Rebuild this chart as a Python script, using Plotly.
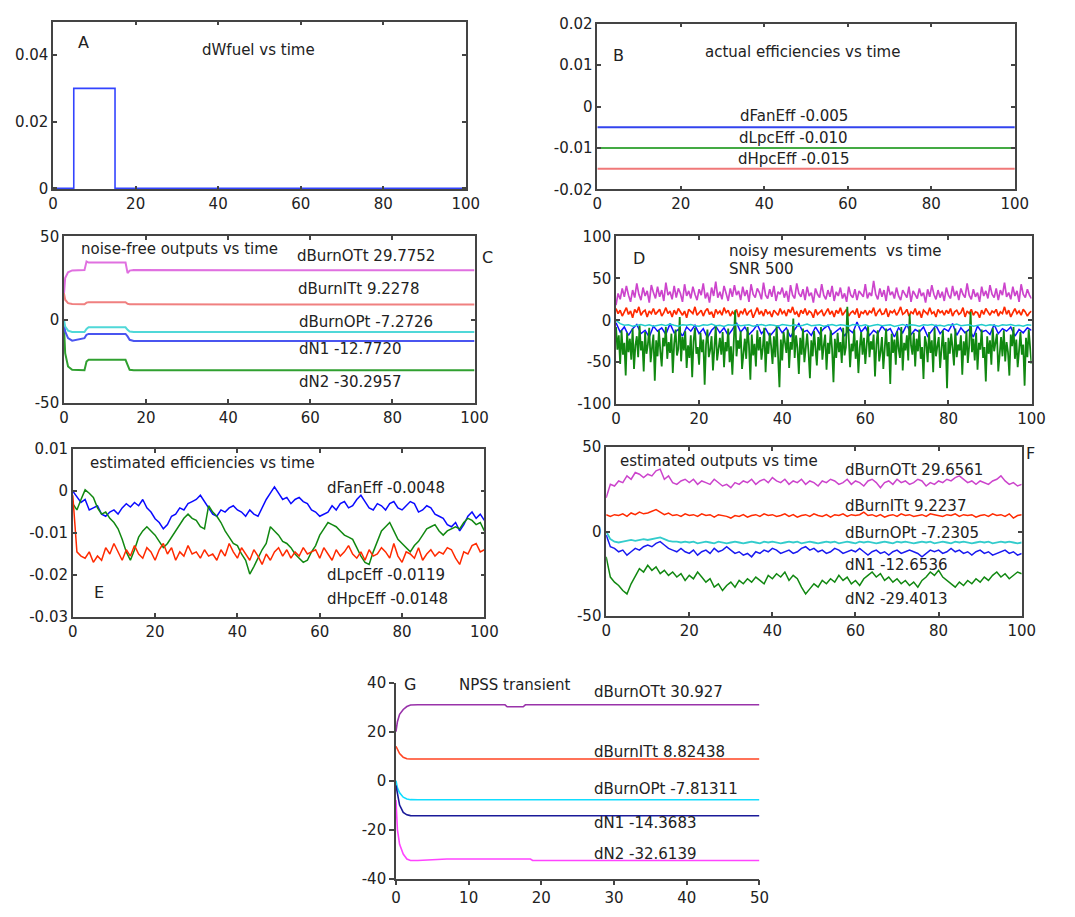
import numpy as np
import plotly.graph_objects as go

# ---------------- DATA ----------------
# Panel A: fuel-flow pulse
a_time = [0, 5, 5, 15, 15, 100]
a_dwfuel = [0, 0, 0.03, 0.03, 0, 0]

# Panel B: actual efficiencies (constant)
b_time = [0, 100]
b_fan = [-0.005, -0.005]
b_lpc = [-0.010, -0.010]
b_hpc = [-0.015, -0.015]

# Panel C: noise-free outputs
c_time = [0, 0.3, 1, 2, 5, 5.5, 6, 15, 15.5, 16, 17, 100]
c_burnOTt = [15, 25, 28.5, 29.6, 29.8, 35, 34.3, 34.3, 28, 29.5, 29.8, 29.78]
c_burnITt = [16, 12, 10, 9.5, 9.3, 10.3, 10.5, 10.5, 9.6, 9.3, 9.25, 9.23]
c_burnOPt = [0, -4, -6.5, -7.3, -7.3, -5.5, -4.5, -4.5, -6, -7, -7.3, -7.27]
c_n1 = [-2, -7, -11, -12.5, -11, -9, -8.5, -8.5, -10, -12, -12.7, -12.77]
c_n2 = [-3, -20, -28, -30, -30.3, -25, -24, -24, -27, -30, -30.3, -30.3]

# Panel D: noisy measurements (SNR 500)
d_burnOTt = [18, 32, 25, 38, 28, 41, 30, 22, 36, 27, 44, 31, 24, 39, 29, 35, 21, 42, 33, 26,
             40, 28, 36, 23, 45, 30, 34, 25, 41, 27, 38, 32, 22, 43, 29, 35, 26, 40, 31, 24,
             37, 30, 44, 26, 33, 21, 39, 29, 46, 27, 34, 25, 41, 31, 23, 38, 28, 42, 30, 35,
             24, 40, 29, 36, 22, 43, 31, 27, 38, 33, 25, 45, 30, 26, 37, 28, 41, 23, 34, 31,
             39, 27, 35, 22, 42, 30, 26, 44, 32, 28, 37, 24, 40, 29, 33, 21, 38, 31, 27, 43,
             30, 25, 36, 28, 41, 23, 34, 29, 39, 26, 32, 22, 40, 30, 27, 37, 24, 35, 31, 28,
             43, 26, 33, 29, 47, 31, 25, 38, 28, 36, 23, 41, 30, 34, 26, 39, 29, 24, 36, 31,
             27, 40, 22, 35, 30, 26, 38, 29, 33, 21, 37, 28, 42, 31, 25, 36, 27, 34, 23, 39,
             30, 26, 41, 29, 35, 24, 38, 31, 27, 44, 30, 25, 37, 28, 33, 22, 40, 29, 35, 26,
             42, 31, 27, 38, 24, 36, 30, 45, 28, 33, 25, 40, 29, 35, 22, 43, 31, 27, 37, 30,
             26]
d_burnITt = [14, 8, 12, 5, 10, 15, 7, 11, 3, 13, 9, 16, 6, 10, 12, 4, 11, 8, 14, 7,
             10, 13, 5, 9, 15, 8, 11, 4, 12, 7, 14, 9, 6, 11, 3, 13, 10, 8, 16, 6,
             9, 12, 5, 11, 14, 7, 10, 3, 13, 8, 11, 6, 15, 9, 12, 5, 10, 7, 13, 4,
             11, 8, 14, 6, 10, 12, 3, 9, 15, 7, 11, 5, 13, 8, 10, 4, 12, 9, 6, 14,
             8, 11, 5, 13, 9, 16, 7, 10, 4, 12, 8, 14, 6, 11, 9, 3, 13, 7, 10, 12,
             5, 9, 14, 7, 11, 4, 12, 8, 15, 6, 10, 13, 5, 9, 11, 7, 14, 3, 10, 8,
             12, 6, 11, 9, 15, 5, 10, 13, 7, 8, 14, 4, 11, 9, 12, 6, 10, 16, 7, 9,
             13, 5, 10, 8, 14, 6, 11, 3, 12, 9, 7, 15, 8, 10, 4, 13, 9, 11, 6, 12,
             8, 14, 5, 10, 12, 7, 9, 15, 4, 11, 8, 13, 6, 10, 9, 3, 12, 7, 14, 10,
             6, 11, 9, 13, 5, 10, 8, 16, 7, 12, 4, 9, 14, 8, 11, 6, 13, 10, 5, 9,
             11]
d_n2 = [-8, -35, -18, -52, -12, -41, -27, -66, -15, -38, -22, -47, -10, -58, -30, -19, -44, -6, -36, -25,
        -61, -14, -40, -29, -9, -50, -33, -17, -72, -24, -43, -12, -37, -55, -21, -31, -8, -46, -26, -39,
        -16, -63, -28, -11, -42, -34, 4, -49, -20, -36, -13, -57, -30, -45, -18, -68, -25, -9, -40, -32,
        -53, -15, -38, -23, -77, -29, -11, -44, -35, -19, -60, -27, -7, -48, -33, -21, -41, -14, -56, -26,
        -37, -10, -50, -31, -65, -18, 12, -43, -24, -34, -13, -58, -39, -22, -46, -8, -30, -71, -17, -42,
        -28, -55, -12, -36, -20, -47, -33, -9, -62, -25, -40, -15, -31, -52, -19, -44, -6, -37, -80, -23,
        -48, -14, -29, -39, -11, -57, -26, -35, 2, -45, -18, -33, -64, -21, -41, -10, -50, -28, -16, -38,
        -69, -24, -43, -13, -31, -54, -20, -36, -8, -47, -30, -17, -59, -27, -40, -12, -34, -74, -22, -45,
        -15, -38, -26, -51, -9, -42, -32, 16, -19, -56, -28, -37, -11, -46, -24, -63, -33, -14, -41, -21,
        -52, -30, -7, -44, -25, -35, -17, -67, -29, -12, -49, -38, -20, -58, -31, -10, -43, -26, -76, -16,
        -39, -23, -53, -13, -34, -45, -8, -60, -27, -36, -18, -48, 7, -30, -41, -15, -55, -22, -37, -11,
        -46, -32, -70, -19, -28, -50, -14, -39, -24, -62, -9, -43, -31, -20, -57, -35, -12, -47, -26, -81,
        -21, -40, -16, -33, -54, -10, -44, -29, -36, -18, -65, -25, -42, -13, -51, -30, 10, -38, -22, -48,
        -15, -59, -27, -35, -11, -45, -32, -73, -19, -40, -24, -53, -9, -37, -28, -16, -61, -34, -20, -43,
        -12, -49, -26, -38, -66, -17, -31, -8, -46, -23, -56, -36, -14, -41, -29, -78, -21, -44, -11, -33,
        -52]
d_n1 = [-3, -14, -8, -18, -10, -5, -16, -12, -20, -7, -13, -9, -17, -4, -15, -11, -19, -8, -13, -6,
        -16, -10, -21, -12, -7, -15, -9, -18, -11, -3, -14, -8, -17, -12, -5, -16, -10, -19, -13, -7,
        -15, -9, -20, -11, -4, -14, -12, -18, -8, -16, -10, -6, -17, -13, -9, -19, -11, -15, -2, -14,
        -8, -18, -12, -16, -7, -13, -10, -20, -9, -15, -5, -17, -11, -14, -8, -19, -12, -6, -16, -10,
        -13, -4, -18, -9, -15, -11, -20, -7, -14, -12, -17, -5, -16, -10, -13, -8, -19, -11, -15, -9,
        -12]
d_burnOPt = [0, -4, -6, -5.5, -7, -6, -5, -6.5, -5.5, -7, -6, -5, -6.5, -4.5, -6, -7, -5.5, -6, -5, -6.5,
             -7, -5.5, -6, -4.5, -6.5, -6, -7.5, -5.5, -6, -5, -6.5, -6, -5.5, -7, -6, -5, -6.5, -5.5, -6, -7,
             -5, -6, -6.5, -5.5, -7, -6, -4.5, -6.5, -6, -5.5, -7, -6, -5, -6.5, -5.5, -6, -7, -5, -6, -6.5,
             -5.5, -7, -6, -5, -6.5, -6, -5.5, -7.5, -6, -5, -6.5, -5.5, -6, -7, -5.5, -6, -5, -6.5, -6, -7,
             -5.5, -6, -4.5, -6.5, -6, -5.5, -7, -6, -5, -6.5, -5.5, -6, -7, -5.5, -6, -5, -6.5, -6, -7, -5.5,
             -6]

# Panel E: estimated efficiencies
e_fan = [0, -0.0015, -0.0027, -0.002, -0.0045, -0.004, -0.0035, -0.0055, -0.006, -0.005,
         -0.0045, -0.0055, -0.004, -0.003, -0.0038, -0.0027, -0.0035, -0.002, -0.004, -0.005,
         -0.0066, -0.0075, -0.009, -0.008, -0.006, -0.0055, -0.004, -0.0045, -0.003, -0.0025,
         -0.002, -0.001, -0.0025, -0.004, -0.0055, -0.006, -0.0045, -0.005, -0.004, -0.0035,
         -0.0045, -0.005, -0.006, -0.0045, -0.0055, -0.006, -0.004, -0.002, -0.0005, 0.001,
         -0.0005, -0.002, -0.0015, -0.003, -0.002, -0.0015, -0.0025, -0.003, -0.0045, -0.005,
         -0.006, -0.0055, -0.005, -0.0035, -0.0045, -0.003, -0.0025, -0.004, -0.0035, -0.002,
         -0.001, -0.0025, -0.004, -0.0045, -0.003, -0.0035, -0.0045, -0.003, -0.0025, -0.004,
         -0.0045, -0.0035, -0.0025, -0.003, -0.005, -0.0045, -0.0035, -0.004, -0.0055, -0.006,
         -0.0065, -0.008, -0.0085, -0.0075, -0.0095, -0.008, -0.006, -0.005, -0.0065, -0.0055,
         -0.007]
e_lpc = [-0.003, -0.0045, -0.002, 0.0003, -0.0005, -0.0015, -0.004, -0.0055, -0.005, -0.0065,
         -0.0075, -0.009, -0.0115, -0.0145, -0.0165, -0.014, -0.011, -0.0095, -0.0085, -0.0095,
         -0.0105, -0.012, -0.0135, -0.0125, -0.011, -0.0095, -0.008, -0.0065, -0.0055, -0.0065,
         -0.007, -0.0085, -0.009, -0.0035, -0.005, -0.006, -0.0075, -0.0095, -0.011, -0.0125,
         -0.013, -0.015, -0.0165, -0.0198, -0.018, -0.016, -0.014, -0.0125, -0.0085, -0.0095,
         -0.0105, -0.012, -0.0125, -0.0135, -0.015, -0.016, -0.017, -0.0165, -0.0145, -0.013,
         -0.0105, -0.009, -0.0075, -0.008, -0.0085, -0.0095, -0.0105, -0.011, -0.0115, -0.0135,
         -0.0155, -0.017, -0.0175, -0.0145, -0.012, -0.0095, -0.0085, -0.0075, -0.0095, -0.0115,
         -0.0125, -0.0135, -0.0145, -0.013, -0.012, -0.0105, -0.009, -0.0085, -0.008, -0.0095,
         -0.0105, -0.0095, -0.009, -0.0085, -0.009, -0.0075, -0.0065, -0.007, -0.008, -0.0075,
         -0.0095]
e_hpc = [-0.001, -0.0145, -0.0155, -0.016, -0.0145, -0.017, -0.0155, -0.0165, -0.0135, -0.015,
         -0.0125, -0.0145, -0.0165, -0.014, -0.0155, -0.013, -0.015, -0.016, -0.0135, -0.0145,
         -0.0165, -0.014, -0.0125, -0.015, -0.0135, -0.0165, -0.0145, -0.0155, -0.013, -0.015,
         -0.0145, -0.016, -0.014, -0.0155, -0.015, -0.0165, -0.014, -0.0155, -0.0125, -0.0145,
         -0.016, -0.0135, -0.015, -0.0165, -0.014, -0.0155, -0.0175, -0.015, -0.0165, -0.0145,
         -0.0135, -0.0155, -0.014, -0.016, -0.0145, -0.0155, -0.0135, -0.015, -0.0145, -0.014,
         -0.016, -0.0135, -0.015, -0.0165, -0.014, -0.0155, -0.0145, -0.013, -0.015, -0.016,
         -0.0145, -0.0165, -0.014, -0.0155, -0.015, -0.0135, -0.0145, -0.016, -0.0125, -0.0155,
         -0.017, -0.0145, -0.015, -0.016, -0.0135, -0.0165, -0.015, -0.014, -0.0155, -0.0145,
         -0.015, -0.0135, -0.014, -0.016, -0.0175, -0.0145, -0.015, -0.013, -0.0125, -0.0145,
         -0.014]

# Panel F: estimated outputs
f_burnOTt = [20, 28, 27, 30, 29, 33, 31, 35, 34, 32, 34, 33, 36, 37, 31, 33, 29, 28, 30, 31,
             29, 31, 28, 30, 29, 28, 31, 29, 27, 28, 26, 29, 28, 30, 29, 31, 28, 30, 31, 29,
             32, 30, 29, 31, 28, 30, 29, 31, 28, 30, 29, 27, 30, 29, 31, 30, 28, 29, 31, 28,
             30, 29, 27, 30, 31, 29, 26, 29, 30, 28, 31, 29, 30, 28, 29, 31, 30, 27, 29, 28,
             30, 29, 31, 30, 32, 33, 31, 29, 30, 28, 30, 29, 28, 30, 31, 33, 30, 28, 29, 27,
             28]
f_burnITt = [10, 9, 10, 9.5, 10.5, 9, 11, 10, 11.5, 10.5, 11, 12, 13, 11.5, 10, 11, 9.5, 10, 9, 10.5,
             9.5, 10, 9, 10.5, 9.5, 10, 8.5, 10, 9.5, 9, 8, 9.5, 9, 10, 8.5, 9.5, 10, 9, 10.5, 9.5,
             10, 9, 9.5, 10.5, 9, 10, 8.5, 9.5, 10, 9, 10.5, 9.5, 9, 10, 8.5, 10, 9.5, 10.5, 9, 10,
             9.5, 10, 11.5, 9.5, 10, 9, 10, 8.5, 9.5, 10, 9, 10.5, 9.5, 10, 9, 9.5, 10, 9, 10.5, 10,
             9.5, 9, 10, 9.5, 10.5, 9, 10, 9.5, 10, 8.5, 9.5, 10, 9, 10.5, 9.5, 10, 9, 10.5, 8, 9.5,
             10]
f_burnOPt = [0, -4.5, -6, -6.5, -6, -5.5, -5, -5.5, -5, -4.5, -5, -4.5, -4, -3.5, -4.5, -5.5, -6, -6, -6.5, -6,
             -6.5, -6, -7, -6.5, -6, -6.5, -7, -6, -6.5, -7, -6.5, -6, -6.5, -7, -6.5, -6, -6.5, -7, -6, -6.5,
             -6, -6.5, -7, -6.5, -6, -6.5, -6, -7, -6.5, -6, -6.5, -7, -6.5, -6, -6.5, -6, -7, -6.5, -6, -6.5,
             -7, -6, -6.5, -6, -6.5, -7, -6.5, -6, -6.5, -7, -6, -6.5, -6, -6.5, -7, -6.5, -6, -6.5, -6, -7,
             -6.5, -6, -6.5, -7, -6, -6.5, -6, -6.5, -7, -6.5, -6, -6.5, -6, -7, -6.5, -6, -6.5, -6, -6.5, -7,
             -6.5]
f_n1 = [-2, -9, -10, -12, -11, -14, -12, -10, -11, -9, -8, -9, -7, -6, -8, -10, -11, -12, -10, -12,
        -13, -11, -14, -12, -11, -13, -10, -12, -11, -9, -11, -13, -12, -14, -13, -15, -12, -13, -11, -12,
        -10, -11, -13, -12, -11, -13, -12, -10, -9, -11, -10, -12, -11, -13, -12, -10, -11, -13, -12, -11,
        -12, -10, -12, -14, -12, -11, -13, -12, -14, -12, -11, -13, -12, -11, -12, -13, -15, -13, -11, -12,
        -11, -13, -12, -10, -12, -11, -13, -12, -14, -12, -11, -13, -12, -14, -13, -12, -11, -13, -12, -14,
        -13]
f_n2 = [-15, -27, -30, -32, -35, -37, -31, -26, -22, -24, -20, -23, -21, -25, -23, -26, -24, -27, -25, -29,
        -26, -28, -24, -27, -30, -28, -33, -31, -35, -32, -30, -33, -29, -31, -28, -30, -27, -29, -31, -26,
        -28, -25, -27, -24, -29, -26, -28, -33, -37, -34, -31, -33, -29, -31, -28, -30, -26, -29, -27, -31,
        -29, -32, -28, -26, -24, -27, -25, -29, -27, -30, -28, -31, -29, -32, -30, -33, -29, -27, -24, -26,
        -23, -27, -29, -31, -33, -30, -32, -29, -31, -28, -30, -27, -29, -26, -24, -27, -25, -28, -26, -24,
        -25]

# Panel G: NPSS transient
g_time = [0, 0.2, 0.5, 1, 1.5, 2, 3, 7, 15, 15.3, 17.5, 17.8, 18.5, 18.8, 50]
g_burnOTt = [20, 24, 27, 29, 30.2, 30.8, 30.9, 30.9, 30.9, 30.1, 30.1, 30.9, 30.9, 30.93, 30.93]
g_burnITt = [14, 13, 11, 9.5, 8.9, 8.8, 8.82, 8.82, 8.82, 8.82, 8.82, 8.82, 8.82, 8.82, 8.82]
g_burnOPt = [0, -3, -5, -6.8, -7.5, -7.8, -7.81, -7.81, -7.81, -7.81, -7.81, -7.81, -7.81, -7.81, -7.81]
g_n1 = [-2, -6, -10, -13, -14, -14.3, -14.37, -14.37, -14.37, -14.37, -14.37, -14.37, -14.37, -14.37, -14.37]
g_n2 = [-8, -20, -26, -30, -32, -32.6, -32.6, -32, -32, -32, -32, -32, -32, -32.6, -32.6]

x_ticks_100 = [0, 20, 40, 60, 80, 100]
x_ticks_50 = [0, 10, 20, 30, 40, 50]

# ---------------- FIGURE ----------------
# The figure fills the whole browser window (no body margin, no scrollbars).
W, H = 1075, 917
FONT = "DejaVu Sans, Verdana, sans-serif"

def px(x):
    return x / W

def py(y):
    return 1 - y / H

def t_of(vals):
    return np.linspace(0, 100, len(vals))

fig = go.Figure()

def add(xs, ys, color, ax, width=1.5):
    fig.add_trace(go.Scatter(x=xs, y=ys, mode="lines", line=dict(color=color, width=width),
                             xaxis="x" + ax, yaxis="y" + ax, showlegend=False, hoverinfo="skip"))

# A
add(a_time, a_dwfuel, "#3344ff", "", 1.6)
# B
add(b_time, b_fan, "#3344ee", "2", 2)
add(b_time, b_lpc, "#44aa44", "2", 2)
add(b_time, b_hpc, "#f07878", "2", 2)
# C
add(c_time, c_burnOTt, "#e070e0", "3", 2)
add(c_time, c_burnITt, "#f08080", "3", 2)
add(c_time, c_n2, "#30a030", "3", 2)
add(c_time, c_n1, "#4a55f0", "3", 2)
add(c_time, c_burnOPt, "#50d8d8", "3", 2)
# D
add(t_of(d_burnOTt), d_burnOTt, "#cc44cc", "4", 1.7)
add(t_of(d_burnITt), d_burnITt, "#ff2a00", "4", 1.7)
add(t_of(d_n1), d_n1, "#1010ff", "4", 1.5)
add(t_of(d_n2), d_n2, "#118811", "4", 1.8)
add(t_of(d_burnOPt), d_burnOPt, "#22cccc", "4", 1.5)
# E
add(t_of(e_fan), e_fan, "#0a0aff", "5", 1.5)
add(t_of(e_lpc), e_lpc, "#118811", "5", 1.5)
add(t_of(e_hpc), e_hpc, "#ff2a00", "5", 1.5)
# F
add(t_of(f_burnOTt), f_burnOTt, "#cc44cc", "6", 1.5)
add(t_of(f_burnITt), f_burnITt, "#ff2a00", "6", 1.5)
add(t_of(f_burnOPt), f_burnOPt, "#33cccc", "6", 1.8)
add(t_of(f_n1), f_n1, "#1a1af0", "6", 1.5)
add(t_of(f_n2), f_n2, "#118811", "6", 1.5)
# G
add(g_time, g_burnOTt, "#9933aa", "7", 1.6)
add(g_time, g_burnITt, "#ff4422", "7", 1.6)
add(g_time, g_burnOPt, "#11ddff", "7", 1.6)
add(g_time, g_n1, "#1a1a99", "7", 1.6)
add(g_time, g_n2, "#ff44ff", "7", 1.6)

tickfont = dict(family=FONT, size=15, color="#222")

def fmt(v):
    return "%g" % v

def frame_axes(n, xd, yd, yrange, yticks, xrange=(0, 100), xticks=x_ticks_100, boxed=True):
    suf = "" if n == 1 else str(n)
    common = dict(showline=True, linecolor="#444", linewidth=1.5, showgrid=False, zeroline=False,
                  tickfont=tickfont, tickcolor="#444", ticklen=4, tickwidth=1.5)
    if boxed:
        common.update(mirror="allticks", ticks="inside")
    else:
        common.update(mirror=False, ticks="outside", ticklen=5)
    fig.layout["xaxis" + suf] = dict(domain=[px(xd[0]), px(xd[1])], range=list(xrange), anchor="y" + suf,
                                     tickmode="array", tickvals=xticks, ticktext=[fmt(v) for v in xticks],
                                     **common)
    fig.layout["yaxis" + suf] = dict(domain=[py(yd[1]), py(yd[0])], range=list(yrange), anchor="x" + suf,
                                     tickmode="array", tickvals=yticks, ticktext=[fmt(v) for v in yticks],
                                     **common)

frame_axes(1, (49, 469), (13, 184), (-0.0003, 0.05), [0, 0.02, 0.04])
frame_axes(2, (603, 1028), (15, 184), (-0.02, 0.02), [-0.02, -0.01, 0, 0.01, 0.02])
frame_axes(3, (60, 478), (232, 402), (-50, 50), [-50, 0, 50])
frame_axes(4, (622, 1045), (232, 403), (-100, 100), [-100, -50, 0, 50, 100])
frame_axes(5, (69, 488), (449, 620), (-0.03, 0.01), [-0.03, -0.02, -0.01, 0, 0.01])
frame_axes(6, (612, 1035), (447, 619), (-50, 50), [-50, 0, 50])
frame_axes(7, (398, 768), (687, 887), (-40, 40), [-40, -20, 0, 20, 40], (0, 50), x_ticks_50, boxed=False)

anns = []

def ann(text, x, y, anchor="left", size=15):
    anns.append(dict(text=text, x=px(x), y=py(y), xref="paper", yref="paper", xanchor=anchor,
                     yanchor="middle", showarrow=False, font=dict(family=FONT, size=size, color="#222")))

# A
ann("A", 72, 34, size=16)
ann("dWfuel vs time", 258, 42, "center")
# B
ann("B", 617, 47, size=16)
ann("actual efficiencies vs time", 812, 44, "center")
ann("dFanEff -0.005", 803, 109, "center")
ann("dLpcEff -0.010", 803, 132, "center")
ann("dHpcEff -0.015", 803, 153, "center")
# C
ann("noise-free outputs vs time", 75, 245)
ann("dBurnOTt 29.7752", 295, 252)
ann("dBurnITt 9.2278", 296, 286)
ann("dBurnOPt -7.2726", 297, 319)
ann("dN1 -12.7720", 297, 347)
ann("dN2 -30.2957", 297, 380)
ann("C", 484, 253, size=16)
# D
ann("D", 637, 255, size=16)
ann("noisy mesurements  vs time", 735, 247)
ann("SNR 500", 735, 265)
# E
ann("estimated efficiencies vs time", 84, 463)
ann("dFanEff -0.0048", 326, 489)
ann("dLpcEff -0.0119", 326, 577)
ann("dHpcEff -0.0148", 326, 602)
ann("E", 89, 595, size=16)
# F
ann("estimated outputs vs time", 624, 461)
ann("dBurnOTt 29.6561", 853, 470)
ann("dBurnITt 9.2237", 853, 507)
ann("dBurnOPt -7.2305", 853, 535)
ann("dN1 -12.6536", 853, 567)
ann("dN2 -29.4013", 853, 602)
ann("F", 1037, 453, size=16)
# G
ann("G", 404, 689, size=16)
ann("NPSS transient", 460, 690)
ann("dBurnOTt 30.927", 598, 697)
ann("dBurnITt 8.82438", 598, 758)
ann("dBurnOPt -7.81311", 598, 796)
ann("dN1 -14.3683", 598, 830)
ann("dN2 -32.6139", 598, 862)

fig.update_layout(autosize=True, margin=dict(l=0, r=0, t=0, b=0, pad=0),
                  paper_bgcolor="white", plot_bgcolor="white", annotations=anns,
                  font=dict(family=FONT, size=15, color="#222"))

page_css = ("document.documentElement.style.margin='0';"
            "document.documentElement.style.overflow='hidden';"
            "document.body.style.margin='0';"
            "document.body.style.overflow='hidden';")

fig.write_html("out.html", default_width="100vw", default_height="100vh",
               post_script=page_css, config={"responsive": True, "displayModeBar": False})
